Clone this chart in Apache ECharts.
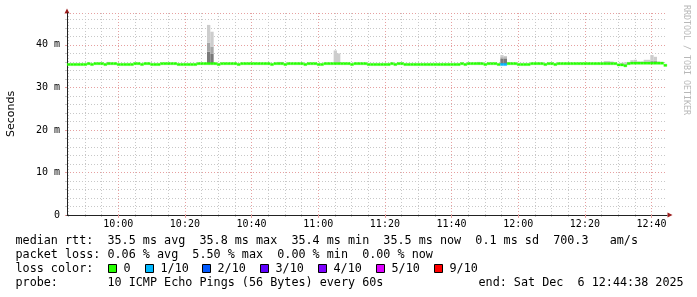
<!DOCTYPE html>
<html><head><meta charset="utf-8">
<script src="https://cdn.jsdelivr.net/npm/echarts@6/dist/echarts.min.js"></script>
<style>html,body{margin:0;padding:0;background:#fff}#c{width:697px;height:297px}</style>
</head><body><div id="c"></div>
<script>
// ---------- data ----------
const timeStart = '09:44:38';
const timeEnd = '12:44:38';
const xTickLabels = ['10:00','10:20','10:40','11:00','11:20','11:40','12:00','12:20','12:40'];
const yTickLabels = ['0','10 m','20 m','30 m','40 m'];
// median rtt per minute (ms)
const median = [
35.4,35.4,35.4,35.4,35.4,35.4,35.6,35.4,35.6,35.6,35.6,35.4,35.6,35.6,35.6,35.4,35.4,35.4,35.4,35.4,
35.6,35.6,35.4,35.6,35.6,35.4,35.4,35.4,35.6,35.6,35.6,35.6,35.6,35.4,35.4,35.4,35.4,35.4,35.4,35.6,
35.6,35.6,35.6,35.6,35.6,35.4,35.6,35.6,35.6,35.6,35.6,35.4,35.6,35.6,35.6,35.6,35.6,35.6,35.6,35.6,
35.6,35.4,35.6,35.6,35.6,35.4,35.6,35.6,35.6,35.6,35.6,35.4,35.6,35.6,35.6,35.4,35.4,35.6,35.6,35.6,
35.6,35.6,35.6,35.6,35.6,35.4,35.6,35.6,35.6,35.6,35.4,35.4,35.4,35.4,35.4,35.4,35.4,35.6,35.4,35.6,
35.6,35.4,35.4,35.4,35.4,35.4,35.4,35.4,35.4,35.4,35.4,35.4,35.4,35.4,35.4,35.4,35.4,35.4,35.6,35.4,
35.6,35.6,35.6,35.6,35.6,35.4,35.6,35.6,35.6,35.4,35.4,35.4,35.6,35.6,35.6,35.4,35.4,35.4,35.4,35.6,
35.6,35.6,35.6,35.4,35.6,35.6,35.4,35.6,35.6,35.6,35.6,35.6,35.6,35.6,35.6,35.6,35.6,35.6,35.6,35.6,
35.6,35.6,35.6,35.6,35.6,35.3,35.3,35.1,35.6,35.7,35.7,35.7,35.7,35.7,35.7,35.7,35.7,35.7,35.7,35.2
];
// minutes with packet loss (index, tenths lost)
const lossMinute = [130, 131];
const lossTenths = [1, 1];
// smoke (ping spread) per minute: top of light / mid / dark gray layers (ms)
const smokeMinute = [12, 42, 43, 63, 64, 80, 81, 123, 130, 131, 132, 161, 162, 163, 166, 167, 168, 169, 170, 171, 172, 173, 174, 175, 176, 177, 178];
const smokeMax  = [36.0,44.7,43.1,36.0,36.0,38.7,38.0,36.0,37.6,37.4,35.9,36.2,36.2,36.1,35.8,35.9,36.0,36.4,36.5,36.1,36.1,36.5,36.5,37.6,37.2,36.1,36.0];
const smokeMid  = [null,40.5,39.6,null,null,null,null,null,37.1,37.1,null,null,null,null,null,null,null,36.0,36.0,36.0,36.0,36.1,36.1,36.3,36.3,null,null];
const smokeDark = [null,38.4,37.9,null,null,null,null,null,36.8,36.8,null,null,null,null,null,null,null,null,null,null,null,null,null,null,null,null,null];
const lossLegend = ['0','1/10','2/10','3/10','4/10','5/10','9/10'];
const lossColors = ['#26ff00','#00b8ff','#0059ff','#5e00ff','#7e00ff','#dd00ff','#ff0000'];
const lossTenthKeys = [0,1,2,3,4,5,9];
const statLines = [
  'median rtt:  35.5 ms avg  35.8 ms max  35.4 ms min  35.5 ms now  0.1 ms sd  700.3   am/s',
  'packet loss: 0.06 % avg  5.50 % max  0.00 % min  0.00 % now',
  'loss color:',
  'probe:       10 ICMP Echo Pings (56 Bytes) every 60s'
];
const endText = 'end: Sat Dec  6 12:44:38 2025';
const watermark = 'RRDTOOL / TOBI OETIKER';

// ---------- build ----------
const toMin = s => { const p = s.split(':').map(Number); return p[0]*60 + p[1] + (p[2]||0)/60; };
const xMin = toMin(timeStart), xMax = toMin(timeEnd);
const majorTicks = xTickLabels.map(toMin);
const minorTicks = [];
for (let m = Math.ceil(xMin/5)*5; m <= xMax; m += 5) minorTicks.push(m);
const cats = median.map((_, i) => String(i));

const sBase = median.map(() => null), sDark = median.map(() => null), sMid = median.map(() => null), sLight = median.map(() => null);
smokeMinute.forEach((i, k) => {
  const base = median[i];
  const d = smokeDark[k], m = smokeMid[k], mx = smokeMax[k];
  sBase[i] = base;
  sDark[i] = d != null ? +(d - base).toFixed(3) : 0;
  const lo1 = d != null ? d : base;
  sMid[i] = m != null ? +(m - lo1).toFixed(3) : 0;
  const lo2 = m != null ? m : lo1;
  sLight[i] = +(mx - lo2).toFixed(3);
});
const BAND = 0.6;
const lossAt = median.map(() => 0);
lossMinute.forEach((i, k) => { lossAt[i] = lossTenths[k]; });
const colorFor = t => lossColors[lossTenthKeys.indexOf(t)];
const mBase = median.map(v => +(v - BAND/2).toFixed(3));
const mBand = median.map((v, i) => ({ value: BAND, itemStyle: { color: colorFor(lossAt[i]), borderColor: colorFor(lossAt[i]), borderWidth: 0.3 } }));

const G = { left: 67, right: 30, top: 13, bottom: 82, outerBoundsMode: 'none', containLabel: false };
const MAJ = '#e6a0a0', MIN = '#c8c8c8';
const mono = '"DejaVu Sans Mono", monospace';
const barCommon = { type: 'bar', xAxisIndex: 2, yAxisIndex: 0, barWidth: '100%', barGap: '-100%', silent: true };

const graphic = [];
const rowY = [241, 255, 269, 283];
statLines.forEach((t, i) => graphic.push({ type: 'text', x: 15.5, y: rowY[i], silent: true,
  style: { text: t, fill: '#000', font: '11.75px ' + mono, align: 'left', verticalAlign: 'middle' } }));
graphic.push({ type: 'text', x: 478.5, y: rowY[3], silent: true,
  style: { text: endText, fill: '#000', font: '11.75px ' + mono, align: 'left', verticalAlign: 'middle' } });
const boxX = [109, 146, 203, 261, 319, 377, 435];
lossLegend.forEach((lab, i) => {
  graphic.push({ type: 'rect', silent: true, shape: { x: boxX[i] - 0.5, y: 264.5, width: 8, height: 8 },
    style: { fill: lossColors[i], stroke: '#000', lineWidth: 1 } });
  graphic.push({ type: 'text', x: boxX[i] + 14.5, y: rowY[2], silent: true,
    style: { text: lab, fill: '#000', font: '11.75px ' + mono, align: 'left', verticalAlign: 'middle' } });
});
graphic.push({ type: 'text', x: 686, y: 5, rotation: -Math.PI/2, silent: true,
  style: { text: watermark, fill: '#b8b8b8', font: '8.3px ' + mono, align: 'left', verticalAlign: 'middle' } });
// axis arrows
graphic.push({ type: 'polygon', silent: true, shape: { points: [[64.5, 13.5], [69.5, 13.5], [67, 8.5]] }, style: { fill: '#9b1c1c' } });
graphic.push({ type: 'polygon', silent: true, shape: { points: [[667.5, 212.5], [667.5, 217.5], [672.5, 215]] }, style: { fill: '#9b1c1c' } });

const option = {
  animation: false,
  backgroundColor: '#fff',
  grid: G,
  xAxis: [
    { type: 'value', min: xMin, max: xMax, position: 'bottom',
      axisLine: { show: true, onZero: false, lineStyle: { color: '#222', width: 1 } },
      axisTick: { show: true, length: 3, customValues: majorTicks, lineStyle: { color: MAJ } },
      axisLabel: { show: true, customValues: majorTicks, margin: 4, color: '#000', fontFamily: mono, fontSize: 10,
        formatter: v => { const k = majorTicks.findIndex(t => Math.abs(t - v) < 1e-6); return k >= 0 ? xTickLabels[k] : ''; } },
      splitLine: { show: true, lineStyle: { color: MAJ, type: [1, 2], width: 1 } }, z: 1 },
    { type: 'value', min: xMin, max: xMax, position: 'bottom',
      axisLine: { show: false },
      axisTick: { show: true, length: 2, customValues: minorTicks, lineStyle: { color: MIN } },
      axisLabel: { show: false, customValues: minorTicks },
      splitLine: { show: true, lineStyle: { color: MIN, type: [1, 2], width: 1 } }, z: 0 },
    { type: 'category', data: cats, show: false, boundaryGap: true }
  ],
  yAxis: [{
    type: 'value', min: 0, max: 47.5, interval: 10,
    name: 'Seconds', nameLocation: 'middle', nameRotate: 90, nameGap: 50,
    nameTextStyle: { color: '#000', fontFamily: '"DejaVu Sans", sans-serif', fontSize: 11 },
    axisLine: { show: true, lineStyle: { color: '#222', width: 1 } },
    axisTick: { show: true, length: 2, lineStyle: { color: MAJ } },
    minorTick: { show: true, splitNumber: 5, length: 2, lineStyle: { color: MIN } },
    axisLabel: { margin: 7, color: '#000', fontFamily: mono, fontSize: 10,
      formatter: v => yTickLabels[Math.round(v / 10)] || '' },
    splitLine: { show: true, lineStyle: { color: MAJ, type: [1, 2], width: 1 } },
    minorSplitLine: { show: true, lineStyle: { color: MIN, type: [1, 2], width: 1 } }
  }],
  series: [
    Object.assign({ name: 'smokeBase', stack: 'smoke', data: sBase, itemStyle: { color: 'rgba(0,0,0,0)' } }, barCommon),
    Object.assign({ name: 'smokeDark', stack: 'smoke', data: sDark, itemStyle: { color: '#7a7a7a' } }, barCommon),
    Object.assign({ name: 'smokeMid', stack: 'smoke', data: sMid, itemStyle: { color: '#a6a6a6' } }, barCommon),
    Object.assign({ name: 'smokeLight', stack: 'smoke', data: sLight, itemStyle: { color: '#cdcdcd' } }, barCommon),
    Object.assign({ name: 'medBase', stack: 'med', data: mBase, itemStyle: { color: 'rgba(0,0,0,0)' } }, barCommon),
    Object.assign({ name: 'median', stack: 'med', data: mBand }, barCommon)
  ],
  graphic: graphic
};
const chart = echarts.init(document.getElementById('c'));
chart.setOption(option);
</script></body></html>
